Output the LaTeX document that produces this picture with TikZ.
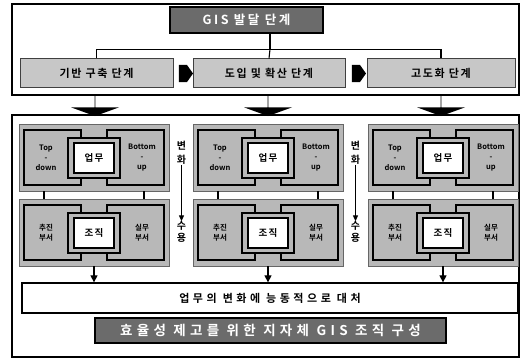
\documentclass[tikz,border=0pt]{standalone}
\usepackage{fontspec}
\setmainfont{Noto Sans CJK KR}
\newfontfamily\kb{Noto Sans CJK KR Bold}
\usetikzlibrary{shapes.arrows,shapes.symbols,arrows.meta}
\tikzset{
  framebox/.style={draw=black, line width=1.3pt, inner sep=0pt},
  titlebox/.style={draw=black, line width=2.4pt, fill=black!58, text=white, inner sep=0pt,
     font={\kb\fontsize{12.5}{12.5}\selectfont\addfontfeatures{LetterSpace=20}}},
  stagebox/.style={draw=black!75, line width=1pt, fill=black!22, inner sep=0pt, minimum height=28pt,
     font={\kb\fontsize{11}{11}\selectfont\addfontfeatures{LetterSpace=15}}},
  conn/.style={draw=black, line width=1.1pt},
  rarrow/.style={signal, signal to=east, signal pointer angle=110, fill=black, draw=none,
     inner sep=0pt, minimum width=14pt, minimum height=17pt},
  darrow/.style={single arrow, shape border rotate=270, fill=black, draw=none, inner sep=0pt,
     minimum height=21pt, minimum width=48pt, single arrow head extend=11.5pt,
     single arrow head indent=0pt, single arrow tip angle=140},
  panelbox/.style={draw=black!60, line width=0.8pt, fill=black!28, inner sep=0pt,
     minimum width=150pt, minimum height=67pt},
  blockst/.style={draw=black, line width=2.2pt, fill=black!28, line join=miter},
  ringst/.style={draw=black, line width=1.5pt, fill=black!28},
  whitebox/.style={draw=black, line width=1.8pt, fill=white, inner sep=0pt,
     minimum width=40pt, minimum height=30pt,
     font={\kb\fontsize{9.5}{9.5}\selectfont\addfontfeatures{LetterSpace=15}}},
  ptext/.style={align=center, inner sep=0pt, font={\kb\fontsize{7.5}{10}\selectfont}},
  vtext/.style={inner sep=0pt, font={\kb\fontsize{10}{10}\selectfont}},
  downarr/.style={draw=black, line width=1.2pt, -{Triangle[length=7pt,width=7pt]}},
  widebox/.style={draw=black, line width=1.3pt, fill=white, inner sep=0pt,
     minimum width=496pt, minimum height=30pt,
     font={\kb\fontsize{11}{11}\selectfont\addfontfeatures{LetterSpace=32}}},
  finalbox/.style={draw=black, line width=2.4pt, fill=black!58, text=white, inner sep=0pt,
     minimum width=351pt, minimum height=25pt,
     font={\kb\fontsize{13.5}{13.5}\selectfont\addfontfeatures{LetterSpace=32}}}
}
% cx, y0, name, left text, centre text, right text
\newcommand\gpanel[6]{%
  \node[panelbox] (#3) at ({#1},{#2+33.5}) {};
  \draw[blockst] ({#1-70},{#2+6}) -- ({#1-13},{#2+6}) -- ({#1-13},{#2+14}) -- ({#1-26},{#2+14})
     -- ({#1-26},{#2+54}) -- ({#1-13},{#2+54}) -- ({#1-13},{#2+61}) -- ({#1-70},{#2+61}) -- cycle;
  \draw[blockst] ({#1+70},{#2+6}) -- ({#1+13},{#2+6}) -- ({#1+13},{#2+14}) -- ({#1+26},{#2+14})
     -- ({#1+26},{#2+54}) -- ({#1+13},{#2+54}) -- ({#1+13},{#2+61}) -- ({#1+70},{#2+61}) -- cycle;
  \draw[ringst] ({#1-26},{#2+14}) rectangle ({#1+26},{#2+54});
  \node[whitebox] (#3c) at ({#1},{#2+34}) {#5};
  \node[ptext] (#3l) at ({#1-48},{#2+34}) {#4};
  \node[ptext] (#3r) at ({#1+48},{#2+34}) {#6};
}
\begin{document}
\begin{tikzpicture}[x=1pt,y=-1pt]
\useasboundingbox (0,0) rectangle (522,361);
% frames
\node[framebox, minimum width=507pt, minimum height=91pt] (topframe) at (265.5,49.5) {};
\node[framebox, minimum width=507pt, minimum height=242pt] (lowframe) at (265.5,236) {};
% title and stages
\node[titlebox, minimum width=153pt, minimum height=26pt] (g) at (246.5,20) {GIS 발달 단계};
\node[stagebox, minimum width=153pt] (s1) at (96.5,73) {기반 구축 단계};
\node[stagebox, minimum width=152pt] (s2) at (269,73) {도입 및 확산 단계};
\node[stagebox, minimum width=148pt] (s3) at (441,73) {고도화 단계};
\draw[conn] ([xshift=23.5pt]g.south) -- ++(0,15) coordinate (hc);
\draw[conn] (s1.north) |- (hc) -| (s3.north);
\draw[conn] (hc) -- (s2.north);
\node[rarrow] (a1) at (183,73.5) {};
\node[rarrow] (a2) at (356,73.5) {};
% big down arrows
\node[darrow] (d1) at (95,105.5) {};
\node[darrow] (d2) at (268,105.5) {};
\node[darrow] (d3) at (441,105.5) {};
% panels
\gpanel{94}{124}{p1t}{Top\\-\\down}{업무}{Bottom\\-\\up}
\gpanel{268}{124}{p2t}{Top\\-\\down}{업무}{Bottom\\-\\up}
\gpanel{443}{124}{p3t}{Top\\-\\down}{업무}{Bottom\\-\\up}
\gpanel{94}{199}{p1b}{추진\\부서}{조직}{실무\\부서}
\gpanel{268}{199}{p2b}{추진\\부서}{조직}{실무\\부서}
\gpanel{443}{199}{p3b}{추진\\부서}{조직}{실무\\부서}
\foreach \p in {p1,p2,p3}{
  \draw[conn] ([xshift=-50pt]\p t.south) -- ([xshift=-50pt]\p b.north);
  \draw[conn] ([xshift=50pt]\p t.south) -- ([xshift=50pt]\p b.north);
}
% change / acceptance labels
\node[vtext] (c1a) at (181.5,146) {변};
\node[vtext] (c1b) at (181.5,160) {화};
\node[vtext] (c1c) at (181.5,226) {수};
\node[vtext] (c1d) at (181.5,238) {용};
\draw[conn, -{Triangle[length=6pt,width=5pt]}] (c1b.south) -- (c1c.north);
\node[vtext] (c2a) at (355.5,146) {변};
\node[vtext] (c2b) at (355.5,160) {화};
\node[vtext] (c2c) at (355.5,226) {수};
\node[vtext] (c2d) at (355.5,238) {용};
\draw[conn, -{Triangle[length=6pt,width=5pt]}] (c2b.south) -- (c2c.north);
% result
\node[widebox] (w) at (270,298) {업무의 변화에 능동적으로 대처};
\foreach \p in {p1,p2,p3}{
  \draw[downarr] (\p b.south) -- (\p b.south |- w.north);
}
\node[finalbox] (f) at (270.5,330.5) {효율성 제고를 위한 지자체 GIS 조직 구성};
\end{tikzpicture}
\end{document}
